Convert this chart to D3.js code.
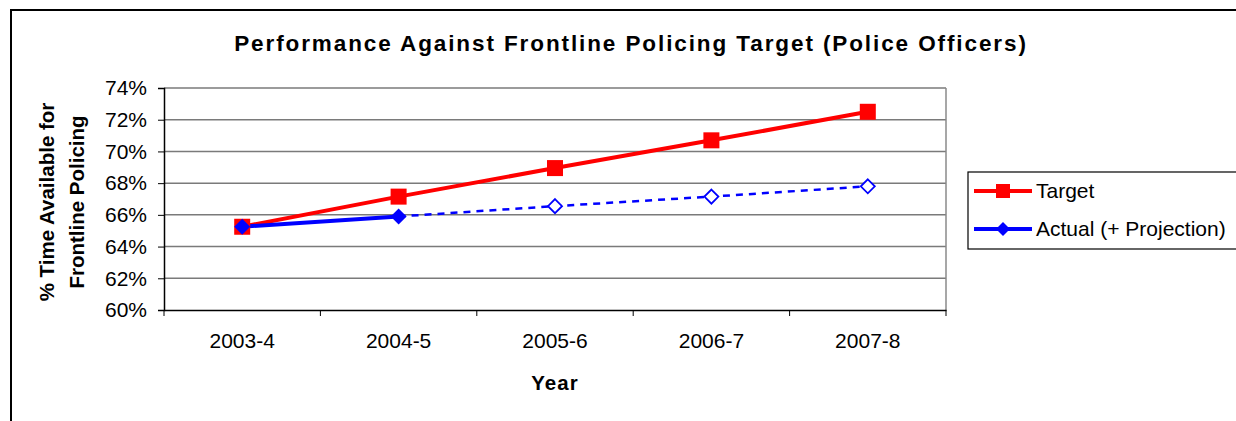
<!DOCTYPE html>
<html>
<head>
<meta charset="utf-8">
<script src="https://cdn.jsdelivr.net/npm/d3@7"></script>
<style>
  body { margin: 0; background: #fff; }
  text { font-family: Arial, "Liberation Sans", sans-serif; fill: #000; }
</style>
</head>
<body>
<div id="chart"></div>
<script>
var years = ['2003-4', '2004-5', '2005-6', '2006-7', '2007-8'];
var target = [65.25, 67.15, 68.95, 70.7, 72.5];
var actual = [65.25, 65.9, 66.55, 67.15, 67.8];
// which actual points are measured (the rest are projections)
var measured = [true, true, false, false, false];
var yTicks = [60, 62, 64, 66, 68, 70, 72, 74];

var FONT = 'Arial, "Liberation Sans", sans-serif';
var W = 1236, H = 421;
var margin = { top: 88, left: 164, right: 290, bottom: 111 };
var width = W - margin.left - margin.right;
var height = H - margin.top - margin.bottom;

var svg = d3.select('#chart').append('svg')
    .attr('width', W)
    .attr('height', H);

// outer chart frame
svg.append('rect')
    .attr('x', 11).attr('y', 10)
    .attr('width', W + 20).attr('height', H)
    .attr('fill', 'none')
    .attr('stroke', '#000')
    .attr('stroke-width', 2);

svg.append('text')
    .attr('x', 631).attr('y', 51)
    .attr('text-anchor', 'middle')
    .attr('font-size', 22.5)
    .attr('font-weight', 'bold')
    .attr('letter-spacing', 1.9)
    .text('Performance Against Frontline Policing Target (Police Officers)');

var g = svg.append('g')
    .attr('transform', 'translate(' + margin.left + ',' + margin.top + ')');

var sx = d3.scaleBand().domain(years).range([0, width]);
var sy = d3.scaleLinear().domain([60, 74]).range([height, 0]);
var cx = function(i) { return sx(years[i]) + sx.bandwidth() / 2; };

// gridlines
g.selectAll('.grid').data(yTicks.slice(1)).enter()
    .append('line')
    .attr('x1', 0).attr('x2', width)
    .attr('y1', function(d) { return sy(d); })
    .attr('y2', function(d) { return sy(d); })
    .attr('stroke', '#7a7a7a')
    .attr('stroke-width', 1.5);
g.append('line')
    .attr('x1', width).attr('x2', width)
    .attr('y1', 0).attr('y2', height)
    .attr('stroke', '#8a8a8a')
    .attr('stroke-width', 1.5);

var ay = d3.axisLeft(sy)
    .tickValues(yTicks)
    .tickSize(6)
    .tickPadding(11)
    .tickFormat(function(d) { return d + '%'; });
var gy = g.append('g').call(ay);
gy.select('.domain').attr('stroke', '#000').attr('stroke-width', 1.5);
gy.selectAll('.tick line').attr('stroke', '#000');
gy.selectAll('.tick text').attr('font-size', 21).attr('font-family', FONT);

var ax = d3.axisBottom(sx).tickSize(0).tickPadding(23);
var gx = g.append('g')
    .attr('transform', 'translate(0,' + height + ')')
    .call(ax);
gx.select('.domain').attr('stroke', '#000').attr('stroke-width', 1.5);
gx.selectAll('.tick text').attr('font-size', 21).attr('font-family', FONT);
// category boundary ticks
g.selectAll('.xtick').data(d3.range(years.length + 1)).enter()
    .append('line')
    .attr('x1', function(i) { return i * sx.bandwidth(); })
    .attr('x2', function(i) { return i * sx.bandwidth(); })
    .attr('y1', height).attr('y2', height + 6)
    .attr('stroke', '#000');

svg.append('text')
    .attr('x', 555).attr('y', 390)
    .attr('text-anchor', 'middle')
    .attr('font-size', 20.5)
    .attr('font-weight', 'bold')
    .attr('letter-spacing', 1)
    .text('Year');

var yl = svg.append('text')
    .attr('transform', 'translate(54,' + 202 + ') rotate(-90)')
    .attr('text-anchor', 'middle')
    .attr('font-size', 20.5)
    .attr('font-weight', 'bold');
yl.append('tspan').attr('x', 0).attr('dy', 0).text('% Time Available for');
yl.append('tspan').attr('x', 0).attr('dy', 30).text('Frontline Policing');

var line = d3.line()
    .x(function(d) { return cx(d.i); })
    .y(function(d) { return sy(d.v); });

var tData = target.map(function(v, i) { return { i: i, v: v }; });
var aData = actual.map(function(v, i) { return { i: i, v: v }; });
var lastMeasured = measured.lastIndexOf(true);

g.append('path')
    .datum(tData)
    .attr('d', line)
    .attr('fill', 'none')
    .attr('stroke', '#ff0000')
    .attr('stroke-width', 4);

g.append('path')
    .datum(aData.slice(lastMeasured))
    .attr('d', line)
    .attr('fill', 'none')
    .attr('stroke', '#0000ff')
    .attr('stroke-width', 2.5)
    .attr('stroke-dasharray', '7,6');

g.append('path')
    .datum(aData.slice(0, lastMeasured + 1))
    .attr('d', line)
    .attr('fill', 'none')
    .attr('stroke', '#0000ff')
    .attr('stroke-width', 4);

g.selectAll('.tmark').data(tData).enter()
    .append('rect')
    .attr('x', function(d) { return cx(d.i) - 8; })
    .attr('y', function(d) { return sy(d.v) - 8; })
    .attr('width', 16).attr('height', 16)
    .attr('fill', '#ff0000');

var diamond = function(r) {
    return 'M0,' + (-r) + 'L' + r + ',0L0,' + r + 'L' + (-r) + ',0Z';
};
g.selectAll('.amark').data(aData).enter()
    .append('path')
    .attr('transform', function(d) { return 'translate(' + cx(d.i) + ',' + sy(d.v) + ')'; })
    .attr('d', function(d) { return measured[d.i] ? diamond(8) : diamond(7); })
    .attr('fill', function(d) { return measured[d.i] ? '#0000ff' : '#fff'; })
    .attr('stroke', '#0000ff')
    .attr('stroke-width', function(d) { return measured[d.i] ? 0 : 1.8; });

// legend
var lg = svg.append('g').attr('transform', 'translate(968,172)');
lg.append('rect')
    .attr('x', 0).attr('y', 0)
    .attr('width', 300).attr('height', 77)
    .attr('fill', '#fff')
    .attr('stroke', '#000')
    .attr('stroke-width', 1.2);
var items = [
    { name: 'Target', color: '#ff0000', mark: 'square' },
    { name: 'Actual (+ Projection)', color: '#0000ff', mark: 'diamond' }
];
items.forEach(function(it, i) {
    var y = 19 + i * 38;
    lg.append('line')
        .attr('x1', 6).attr('x2', 64)
        .attr('y1', y).attr('y2', y)
        .attr('stroke', it.color)
        .attr('stroke-width', 4);
    if (it.mark === 'square') {
        lg.append('rect')
            .attr('x', 28).attr('y', y - 7)
            .attr('width', 14).attr('height', 14)
            .attr('fill', it.color);
    } else {
        lg.append('path')
            .attr('transform', 'translate(35,' + y + ')')
            .attr('d', diamond(7))
            .attr('fill', it.color);
    }
    lg.append('text')
        .attr('x', 68).attr('y', y + 7)
        .attr('font-size', 21)
        .text(it.name);
});
</script>
</body>
</html>
